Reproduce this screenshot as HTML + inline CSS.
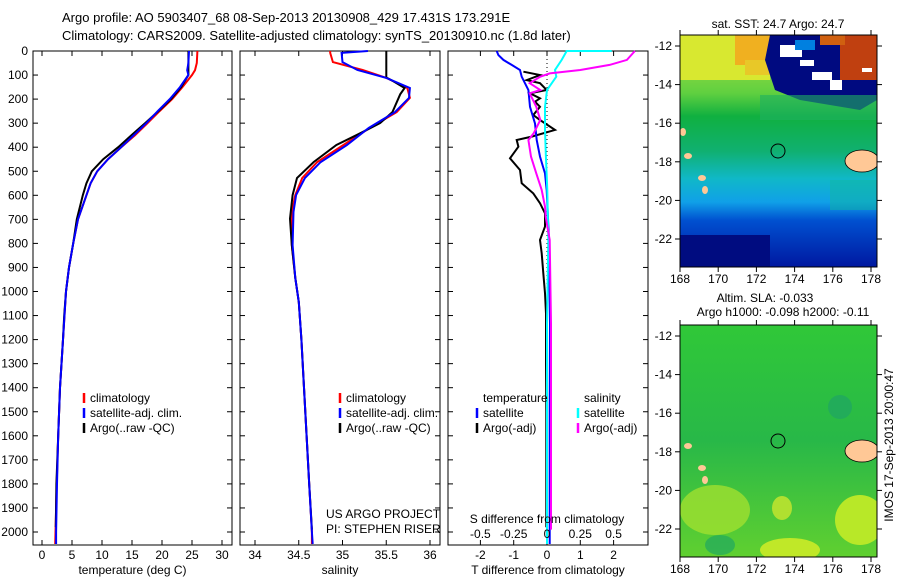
<!DOCTYPE html>
<html><head><meta charset="utf-8"><style>
body{margin:0;background:#fff;}
svg{display:block;font-family:"Liberation Sans",sans-serif;font-size:12px;}
</style></head><body>
<svg id="fig" width="900" height="580" viewBox="0 0 900 580" xmlns="http://www.w3.org/2000/svg">
<defs>
<linearGradient id="sstg" x1="0" y1="0" x2="0" y2="1">
<stop offset="0" stop-color="#b8e040"/><stop offset="0.25" stop-color="#60d040"/><stop offset="0.35" stop-color="#10b040"/><stop offset="0.5" stop-color="#10b070"/><stop offset="0.62" stop-color="#10b8c8"/><stop offset="0.72" stop-color="#10a0e8"/><stop offset="0.8" stop-color="#0050d0"/><stop offset="1" stop-color="#0018a0"/>
</linearGradient>
<linearGradient id="slag" x1="0" y1="0" x2="0" y2="1">
<stop offset="0" stop-color="#30c838"/><stop offset="0.5" stop-color="#28b848"/><stop offset="1" stop-color="#60d030"/>
</linearGradient>
<clipPath id="c1"><rect x="680" y="35" width="197" height="232"/></clipPath>
<clipPath id="c2"><rect x="680" y="325" width="197" height="232"/></clipPath>
</defs>
<text x="62" y="22" font-size="13">Argo profile: AO 5903407_68 08-Sep-2013 20130908_429 17.431S 173.291E</text>
<text x="62" y="40" font-size="13">Climatology: CARS2009. Satellite-adjusted climatology: synTS_20130910.nc (1.8d later)</text>
<g id="p1"></g>
<g id="p2"></g>
<g id="p3"></g>

<g>
<text x="778" y="28" text-anchor="middle">sat. SST: 24.7 Argo: 24.7</text>
<g clip-path="url(#c1)">
<rect x="680" y="35" width="197" height="232" fill="url(#sstg)"/>
<rect x="680" y="35" width="90" height="45" fill="#d8e830"/>
<rect x="735" y="35" width="50" height="30" fill="#f0b020"/>
<rect x="745" y="60" width="30" height="15" fill="#e8c828"/>
<path d="M770,35 L877,35 L877,100 L860,110 L830,105 L800,100 L775,90 L765,60 Z" fill="#000a80"/>
<rect x="760" y="95" width="117" height="25" fill="#20b060" opacity="0.6"/>
<rect x="840" y="35" width="37" height="45" fill="#c04010"/>
<rect x="820" y="35" width="25" height="10" fill="#d06010"/>
<rect x="780" y="45" width="22" height="12" fill="#fff"/>
<rect x="800" y="60" width="14" height="6" fill="#fff"/>
<rect x="812" y="72" width="20" height="8" fill="#fff"/>
<rect x="830" y="80" width="12" height="10" fill="#fff"/>
<rect x="862" y="68" width="10" height="4" fill="#fff"/>
<rect x="795" y="40" width="20" height="10" fill="#0080e0"/>
<rect x="680" y="235" width="90" height="32" fill="#000c80"/>
<rect x="830" y="180" width="47" height="30" fill="#10b8a0" opacity="0.5"/>
<ellipse cx="862" cy="161" rx="17" ry="11" fill="#ffc896" stroke="#000" stroke-width="0.8"/>
<ellipse cx="688" cy="156" rx="4" ry="3" fill="#ffc896"/>
<ellipse cx="702" cy="178" rx="4" ry="3" fill="#ffc896"/>
<ellipse cx="705" cy="190" rx="3" ry="4" fill="#ffc896"/>
<ellipse cx="683" cy="132" rx="3" ry="4" fill="#ffc896"/>
</g>
<circle cx="778" cy="151" r="7" fill="none" stroke="#000"/>
<rect x="680" y="35" width="197" height="232" fill="none" stroke="#000"/>
</g>

<g>
<text x="765" y="302" text-anchor="middle">Altim. SLA: -0.033</text>
<text x="783" y="316" text-anchor="middle">Argo h1000: -0.098 h2000: -0.11</text>
<g clip-path="url(#c2)">
<rect x="680" y="325" width="197" height="232" fill="url(#slag)"/>
<ellipse cx="715" cy="510" rx="35" ry="25" fill="#a0e030" opacity="0.8"/>
<ellipse cx="782" cy="508" rx="10" ry="12" fill="#b0e030"/>
<ellipse cx="790" cy="550" rx="30" ry="12" fill="#c0e828"/>
<ellipse cx="860" cy="520" rx="25" ry="25" fill="#b8e828"/>
<ellipse cx="840" cy="407" rx="12" ry="12" fill="#20a860" opacity="0.8"/>
<ellipse cx="720" cy="545" rx="15" ry="10" fill="#20a860" opacity="0.7"/>
<ellipse cx="862" cy="451" rx="17" ry="11" fill="#ffc896" stroke="#000" stroke-width="0.8"/>
<ellipse cx="688" cy="446" rx="4" ry="3" fill="#ffc896"/>
<ellipse cx="702" cy="468" rx="4" ry="3" fill="#ffc896"/>
<ellipse cx="705" cy="480" rx="3" ry="4" fill="#ffc896"/>
</g>
<circle cx="778" cy="441" r="7" fill="none" stroke="#000"/>
<rect x="680" y="325" width="197" height="232" fill="none" stroke="#000"/>
</g>
<text transform="translate(893,445) rotate(-90)" text-anchor="middle">IMOS 17-Sep-2013 20:00:47</text>
<g id="maxes"></g>
</svg>
<script>
// ---- data ----
const depthTicks=[0,100,200,300,400,500,600,700,800,900,1000,1100,1200,1300,1400,1500,1600,1700,1800,1900,2000];
const tempTicks=[0,5,10,15,20,25,30];
const salTicks=[34,34.5,35,35.5,36];
const tdiffTicks=[-2,-1,0,1,2];
const sdiffTicks=[-0.5,-0.25,0,0.25,0.5];
const latTicks=[-12,-14,-16,-18,-20,-22];
const lonTicks=[168,170,172,174,176,178];

const tClimDepth=[0,50,80,100,150,200,250,300,350,400,450,500,550,600,700,800,900,1000,1200,1400,1600,1800,2000,2050];
const tClim=[25.9,25.8,25.5,25.0,23.4,21.7,19.6,17.6,15.5,13.2,11.0,9.2,8.1,7.4,6.0,5.2,4.5,4.0,3.5,3.0,2.7,2.45,2.25,2.2];
const tSat=[24.5,24.4,24.2,24.4,23.0,21.3,19.3,17.4,15.3,13.2,11.0,9.2,8.1,7.4,6.0,5.2,4.5,4.0,3.5,3.0,2.7,2.5,2.35,2.35];
const tArgoDepth=[0,50,100,150,200,250,300,350,400,450,500,550,600,700,800,900,1000,1100,1200,1400,1600,1800,1980];
const tArgo=[24.4,24.4,24.4,23.2,21.5,19.4,17.2,14.9,12.7,10.2,8.3,7.4,6.8,5.8,5.2,4.5,4.0,3.7,3.5,3.0,2.7,2.4,2.3];

const sDepth=[0,8,46,79,112,154,195,254,320,391,462,528,599,669,807,944,1044,1200,1400,1600,1800,2000,2050];
const sClim=[34.86,34.86,34.89,35.23,35.5,35.74,35.77,35.62,35.31,35.01,34.71,34.54,34.46,34.42,34.42,34.46,34.5,34.53,34.56,34.59,34.62,34.65,34.65];
const sSat=[35.29,34.99,35.0,35.17,35.5,35.77,35.76,35.6,35.3,35.05,34.75,34.57,34.47,34.44,34.43,34.46,34.5,34.53,34.56,34.59,34.62,34.65,34.66];
const sArgoDepth=[0,110,125,154,180,254,300,348,391,462,528,599,697,807,944,1044,1200,1400,1600,1800,1990];
const sArgo=[35.5,35.5,35.58,35.71,35.66,35.57,35.43,35.17,34.93,34.67,34.48,34.43,34.4,34.42,34.46,34.5,34.53,34.56,34.59,34.62,34.65];

const dTArgoDepth=[86,100,121,134,162,176,197,211,232,266,287,328,356,370,398,446,495,550,592,633,675,730,786,841,924,1007,1091,1300,1500,1700,1900,1980];
const dTArgo=[-0.71,-0.21,-0.61,-0.21,-0.01,-0.51,-0.21,-0.36,-0.21,-0.41,-0.21,0.24,-0.46,-0.91,-0.86,-1.11,-0.81,-0.76,-0.41,-0.21,-0.06,-0.06,-0.21,-0.16,-0.11,-0.06,-0.03,-0.03,-0.02,-0.02,-0.02,-0.02];
const dTSatDepth=[0,17,37,58,79,107,162,232,301,370,439,509,578,786,1133,1500,2000,2050];
const dTSat=[-1.51,-1.46,-1.31,-1.06,-0.81,-0.76,-0.56,-0.51,-0.36,-0.31,-0.21,-0.06,-0.01,0.06,0.09,0.08,0.08,0.08];
const dSSatDepth=[0,0,37,79,107,162,232,328,439,578,786,1133,1500,2000,2050];
const dSSat=[0.486,0.148,0.11,0.06,0.07,0.0,-0.015,-0.015,-0.008,0.002,0.01,0.0,0.0,0.0,0.0];
const dSArgoDepth=[0,37,58,79,93,107,134,162,176,232,287,342,370,439,509,578,647,689,786,1133,1500,1990];
const dSArgo=[0.66,0.6,0.47,0.25,0.02,-0.05,-0.13,-0.05,-0.13,-0.08,-0.05,-0.1,-0.14,-0.12,-0.08,-0.04,-0.015,-0.01,0.02,0.03,0.03,0.03];

// ---- axes ----
const NS='http://www.w3.org/2000/svg';
const yD=d=>51+d*0.2405;
const xT=t=>42+t*6.0;
const xS=s=>255+(s-34)*87.5;
const xDT=t=>547+t*33.3;
const xDS=s=>547+s*133.2;
const TOP=51, BOT=545;
function mk(parent,tag,attrs,txt){const e=document.createElementNS(NS,tag);for(const k in attrs)e.setAttribute(k,attrs[k]);if(txt!==undefined)e.textContent=txt;parent.appendChild(e);return e;}
function line(g,xs,ys,color,w,name){
  const pts=xs.map((x,i)=>x.toFixed(1)+','+ys[i].toFixed(1)).join(' ');
  const e=mk(g,'polyline',{points:pts,fill:'none',stroke:color,'stroke-width':w});
  
  
}
function panel(g,L,R,xTicks,xf,leftLabels,xlabel,name){
  const box=mk(g,'rect',{x:L,y:TOP,width:R-L,height:BOT-TOP,fill:'none',stroke:'#000'});
  
  
  depthTicks.forEach(d=>{const y=yD(d);
    mk(g,'line',{x1:L,x2:L+5,y1:y,y2:y,stroke:'#000'});
    mk(g,'line',{x1:R-5,x2:R,y1:y,y2:y,stroke:'#000'});
    if(leftLabels){const t=mk(g,'text',{x:L-5,y:y+4,'text-anchor':'end'},String(d));
      
      }
  });
  xTicks.forEach(v=>{const x=xf(v);
    mk(g,'line',{x1:x,x2:x,y1:TOP,y2:TOP+5,stroke:'#000'});
    mk(g,'line',{x1:x,x2:x,y1:BOT-5,y2:BOT,stroke:'#000'});
    const t=mk(g,'text',{x:x,y:BOT+14,'text-anchor':'middle'},String(v));
    
    
  });
  const xl=mk(g,'text',{x:(L+R)/2,y:574,'text-anchor':'middle'},xlabel);
  
  
}
function legend(g,x,y,items){
  items.forEach((it,i)=>{
    if(it[1]) mk(g,'line',{x1:x,x2:x,y1:y+i*15-9,y2:y+i*15+1,stroke:it[1],'stroke-width':2.5});
    const t=mk(g,'text',{x:x+6,y:y+i*15},it[0]);
    
    
  });
}
// panel 1
const p1=document.getElementById('p1');
panel(p1,33,232,tempTicks,xT,true,'temperature (deg C)','temperature');
line(p1,tClim.map(xT),tClimDepth.map(yD),'#f00',2,'temp-climatology-line');
line(p1,tArgo.map(xT),tArgoDepth.map(yD),'#000',2,'temp-argo-line');
line(p1,tSat.map(xT),tClimDepth.map(yD),'#00f',2,'temp-satellite-line');
legend(p1,84,402,[['climatology','#f00'],['satellite-adj. clim.','#00f'],['Argo(..raw -QC)','#000']]);
// panel 2
const p2=document.getElementById('p2');
panel(p2,240,440,salTicks,xS,false,'salinity','salinity');
line(p2,sClim.map(xS),sDepth.map(yD),'#f00',2,'sal-climatology-line');
line(p2,sArgo.map(xS),sArgoDepth.map(yD),'#000',2,'sal-argo-line');
line(p2,sSat.map(xS),sDepth.map(yD),'#00f',2,'sal-satellite-line');
legend(p2,340,402,[['climatology','#f00'],['satellite-adj. clim.','#00f'],['Argo(..raw -QC)','#000']]);
const a1=mk(p2,'text',{x:326,y:518},'US ARGO PROJECT');


const a2=mk(p2,'text',{x:326,y:533},'PI: STEPHEN RISER');


// panel 3
const p3=document.getElementById('p3');
panel(p3,448,648,tdiffTicks,xDT,false,'T difference from climatology','tdiff');
mk(p3,'line',{x1:547,x2:547,y1:TOP,y2:BOT,stroke:'#000','stroke-dasharray':'1,3'});
line(p3,dTArgo.map(xDT),dTArgoDepth.map(yD),'#000',2,'tdiff-argo-line');
line(p3,dTSat.map(xDT),dTSatDepth.map(yD),'#00f',2,'tdiff-satellite-line');
line(p3,dSSat.map(xDS),dSSatDepth.map(yD),'#0ff',2,'sdiff-satellite-line');
line(p3,dSArgo.map(xDS),dSArgoDepth.map(yD),'#f0f',2,'sdiff-argo-line');
legend(p3,477,402,[['temperature',null],['satellite','#00f'],['Argo(-adj)','#000']]);
legend(p3,578,402,[['salinity',null],['satellite','#0ff'],['Argo(-adj)','#f0f']]);
sdiffTicks.forEach(v=>{const t=mk(p3,'text',{x:xDS(v),y:538,'text-anchor':'middle'},String(v));
  
  });
const sl=mk(p3,'text',{x:547,y:523,'text-anchor':'middle'},'S difference from climatology');


// map axes
const mg=document.getElementById('maxes');
[[35,267],[325,557]].forEach(([T,B])=>{
  const yL=lat=>T+11+(-12-lat)*19.3;
  const xL=lon=>680+(lon-168)*19.1;
  latTicks.forEach(l=>{const y=yL(l);
    mk(mg,'line',{x1:675,x2:680,y1:y,y2:y,stroke:'#000'});
    mk(mg,'line',{x1:877,x2:882,y1:y,y2:y,stroke:'#000'});
    const t=mk(mg,'text',{x:672,y:y+4,'text-anchor':'end'},String(l));
    
    });
  lonTicks.forEach(l=>{const x=xL(l);
    mk(mg,'line',{x1:x,x2:x,y1:T-5,y2:T,stroke:'#000'});
    mk(mg,'line',{x1:x,x2:x,y1:B,y2:B+5,stroke:'#000'});
    const t=mk(mg,'text',{x:x,y:B+16,'text-anchor':'middle'},String(l));
    
    });
});
</script>
</body></html>
